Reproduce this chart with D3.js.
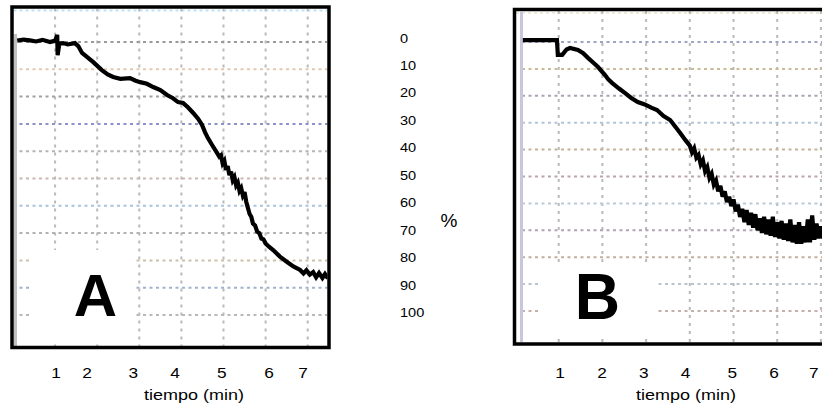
<!DOCTYPE html>
<html>
<head>
<meta charset="utf-8">
<script src="https://cdn.jsdelivr.net/npm/d3@7"></script>
<style>
html,body{margin:0;padding:0;background:#fff;}
svg{display:block;font-family:"Liberation Sans",Arial,sans-serif;}
</style>
</head>
<body>
<svg id="chart" width="822" height="407"></svg>
<script>
// ---------- data ----------
const minuteTicks = [1, 2, 3, 4, 5, 6, 7];
const percentTicks = [0, 10, 20, 30, 40, 50, 60, 70, 80, 90, 100];
// where the minute labels sit under each panel (in minutes)
const labelMinutesA = [1.02, 1.76, 2.86, 3.85, 4.96, 6.08, 6.89];
const labelMinutesB = [1.03, 1.99, 2.95, 3.90, 4.97, 5.93, 6.84];
const xTitle = "tiempo (min)";
const yTitle = "%";
const panelLetters = ["A", "B"];

// series A: [minutes, percent]
const seriesA = [
  [0.10,-0.5],[0.25,-0.9],[0.40,-0.6],[0.55,-0.2],[0.70,-0.8],[0.88,0],[1.00,-0.5],
  [1.05,-2.6],[1.06,4.8],[1.10,0.6],[1.19,0.4],[1.30,0.9],[1.47,0.4],[1.55,1.5],
  [1.64,4.0],[1.77,5.6],[1.90,7.3],[2.11,10.3],[2.25,11.9],[2.38,12.8],[2.55,13.5],
  [2.78,13.2],[2.90,14.1],[3.02,14.7],[3.18,15.3],[3.33,16.5],[3.50,17.6],[3.66,19.4],
  [3.80,20.6],[3.92,22.0],[4.04,22.3],[4.16,24.0],[4.28,26.0],[4.40,28.2],[4.49,30.4],
  [4.56,33.0],[4.63,35.2],[4.74,38.0],[4.85,40.7],[4.90,42.0],[4.94,41.5],[4.98,44.5],
  [5.02,43.5],[5.06,46.8],[5.10,45.5],[5.14,48.8],[5.18,47.5],[5.22,50.6],[5.26,49.5],
  [5.30,52.5],[5.34,51.5],[5.38,54.5],[5.42,53.5],[5.46,56.2],[5.50,55.0],[5.54,58.5],
  [5.58,60.8],[5.62,63.0],[5.66,64.0],[5.70,66.5],[5.75,67.2],[5.80,69.5],[5.85,70.0],
  [5.90,72.0],[5.95,72.3],[6.00,73.8],[6.08,75.0],[6.18,76.2],[6.34,78.6],[6.51,80.6],
  [6.66,82.2],[6.82,83.5],[6.90,84.8],[6.97,83.6],[7.05,85.2],[7.13,84.3],[7.20,86.2],
  [7.27,84.6],[7.35,86.4],[7.41,85.0],[7.48,86.6]
];
// series B: [minutes, percent]
const seriesB = [
  [0.18,-0.7],[0.96,-0.7],[0.98,4.8],[1.08,4.8],[1.18,2.8],[1.26,2.2],[1.44,3.0],
  [1.56,4.2],[1.67,5.9],[1.80,7.8],[1.90,9.3],[2.06,12.3],[2.14,14.0],[2.22,15.2],
  [2.38,17.3],[2.52,19.0],[2.66,20.8],[2.81,22.3],[2.97,23.2],[3.13,24.5],[3.25,25.3],
  [3.40,27.5],[3.55,29.0],[3.67,31.5],[3.78,33.8],[3.90,36.5],[4.00,38.5],[4.05,41.0],
  [4.10,39.5],[4.15,43.0],[4.20,42.0],[4.25,45.5],[4.30,44.0],[4.35,48.0],[4.40,46.5],
  [4.45,50.5],[4.50,49.0],[4.55,53.0],[4.60,51.5],[4.65,55.5],[4.70,53.5],[4.75,57.5],
  [4.80,55.5],[4.85,59.5],[4.90,57.5],[4.95,61.0],[5.00,58.5],[5.05,63.0],[5.10,60.5],
  [5.15,65.0],[5.20,62.0],[5.25,67.0],[5.30,62.5],[5.35,68.0],[5.40,63.5],[5.45,69.0],
  [5.50,64.0],[5.55,70.0],[5.60,65.5],[5.65,71.0],[5.70,65.0],[5.75,71.5],[5.80,66.0],
  [5.85,72.0],[5.90,65.0],[5.95,72.5],[6.00,67.0],[6.05,73.0],[6.10,66.5],[6.15,73.5],
  [6.20,67.5],[6.25,74.0],[6.30,66.0],[6.35,74.5],[6.40,68.0],[6.45,75.0],[6.50,67.0],
  [6.55,75.0],[6.60,68.5],[6.65,74.5],[6.70,66.0],[6.75,74.5],[6.80,64.5],[6.85,73.5],
  [6.90,67.5],[6.95,73.0],[7.00,68.5],[7.05,73.0],[7.10,70.0]
];

// ---------- styles ----------
const hColorsA = ["#9a9a9a","#e3c9b0","#a0a0a0","#8a92c8","#b4b4b4","#c9b8ad","#a9c3dd","#b2b2b2","#cdbfa8","#9fb3cf","#b8b8b8"];
const hColorsB = ["#9ea4c4","#c9bb96","#ada2b2","#b3c3d6","#c4b29a","#bda3ae","#b9c9d9","#b0a4b4","#c2ae9c","#b8c6cc","#c4b0a8"];

const svg = d3.select("#chart");

function panel(opts) {
  const {x, y, series, frame, hColors, letter, whiteBox, strip, labelMinutes} = opts;
  const g = svg.append("g");
  const clipId = "clip" + letter;
  g.append("clipPath").attr("id", clipId)
    .append("rect").attr("x", frame.x0).attr("y", frame.y0)
    .attr("width", frame.x1 - frame.x0).attr("height", frame.y1 - frame.y0);

  const inner = g.append("g").attr("clip-path", `url(#${clipId})`);
  inner.append("rect").attr("x", frame.x0).attr("y", frame.y0)
    .attr("width", frame.x1 - frame.x0).attr("height", frame.y1 - frame.y0).attr("fill", "#fff");

  // top faint line
  inner.append("line").attr("x1", frame.x0).attr("x2", frame.x1)
    .attr("y1", frame.y0 + 2).attr("y2", frame.y0 + 2)
    .attr("stroke", letter === "A" ? "#bfe3f2" : "#f0ead8").attr("stroke-width", 2)
    .attr("stroke-dasharray", "3,3");

  // vertical grid
  inner.selectAll(".vg").data(minuteTicks).join("line")
    .attr("x1", d => x(d)).attr("x2", d => x(d))
    .attr("y1", frame.y0).attr("y2", frame.y1)
    .attr("stroke", "#b9b9b9").attr("stroke-width", 2).attr("stroke-dasharray", "3,5");
  // horizontal grid
  inner.selectAll(".hg").data(percentTicks).join("line")
    .attr("x1", frame.x0 + 6).attr("x2", frame.x1)
    .attr("y1", d => y(d)).attr("y2", d => y(d))
    .attr("stroke", (d, i) => hColors[i]).attr("stroke-width", 2).attr("stroke-dasharray", "3,3.5");

  // white box behind panel letter
  inner.append("rect").attr("x", whiteBox[0]).attr("y", whiteBox[1])
    .attr("width", whiteBox[2]).attr("height", whiteBox[3]).attr("fill", "#fff");

  // left strip
  inner.append("rect").attr("x", strip[0]).attr("y", strip[1])
    .attr("width", 3).attr("height", frame.y1 - strip[1]).attr("fill", strip[2]);

  // curve
  const line = d3.line().x(d => x(d[0])).y(d => y(d[1])).curve(d3.curveLinear);
  inner.append("path").datum(series).attr("d", line)
    .attr("fill", "none").attr("stroke", "#000").attr("stroke-width", 4.2)
    .attr("stroke-linejoin", "miter").attr("stroke-miterlimit", 3);

  // frame
  g.append("rect").attr("x", frame.x0 - 1.5).attr("y", frame.y0 - 1.5)
    .attr("width", frame.x1 - frame.x0 + 3).attr("height", frame.y1 - frame.y0 + 3)
    .attr("fill", "none").attr("stroke", "#000").attr("stroke-width", 3.5);

  // letter
  g.append("text").attr("transform", `translate(${opts.letterPos[0]},${opts.letterPos[1]}) scale(${opts.letterScale},1)`)
    .attr("text-anchor", "middle").attr("font-weight", "bold")
    .attr("font-size", opts.letterSize).attr("fill", "#000").text(letter);

  // minute labels
  g.selectAll(".ml").data(minuteTicks).join("text")
    .attr("transform", (d, i) => `translate(${x(labelMinutes[i])},378) scale(1.15,1)`)
    .attr("text-anchor", "middle").attr("font-size", 15).attr("fill", "#000")
    .text(d => d);
  g.append("text").attr("x", opts.titleX).attr("y", 400)
    .attr("text-anchor", "middle").attr("font-size", 15)
    .attr("textLength", 100).attr("lengthAdjust", "spacingAndGlyphs")
    .attr("fill", "#000").text(xTitle);
}

const xA = d3.scaleLinear().domain([0, 7.5]).range([13, 328.75]);
const yA = d3.scaleLinear().domain([0, 100]).range([42, 315]);
const xB = d3.scaleLinear().domain([0, 7.5]).range([515, 842.75]);
const yB = d3.scaleLinear().domain([0, 100]).range([42, 311]);

panel({
  x: xA, y: yA, series: seriesA,
  frame: {x0: 13.5, y0: 8.5, x1: 327.5, y1: 346},
  hColors: hColorsA, letter: panelLetters[0],
  whiteBox: [29, 250, 107, 91], strip: [14, 34, "#c0c0c0"],
  letterPos: [95.5, 316], letterSize: 60, letterScale: 1.0,
  labelMinutes: labelMinutesA, titleX: 194
});
panel({
  x: xB, y: yB, series: seriesB,
  frame: {x0: 516, y0: 11, x1: 840, y1: 342.5},
  hColors: hColorsB, letter: panelLetters[1],
  whiteBox: [541, 262, 115, 74], strip: [520, 12, "#c9c5dc"],
  letterPos: [597.5, 319], letterSize: 64, letterScale: 0.98,
  labelMinutes: labelMinutesB, titleX: 686
});

// percent labels column
const yLab = d3.scaleLinear().domain([0, 100]).range([38.3, 313]);
svg.append("g").selectAll("text").data(percentTicks).join("text")
  .attr("transform", d => `translate(400,${yLab(d)}) scale(1.12,1)`)
  .attr("dominant-baseline", "central").attr("font-size", 13).attr("fill", "#000")
  .text(d => d);
svg.append("text").attr("x", 449).attr("y", 220).attr("text-anchor", "middle")
  .attr("dominant-baseline", "central").attr("font-size", 19).attr("fill", "#000").text(yTitle);
</script>
</body>
</html>
